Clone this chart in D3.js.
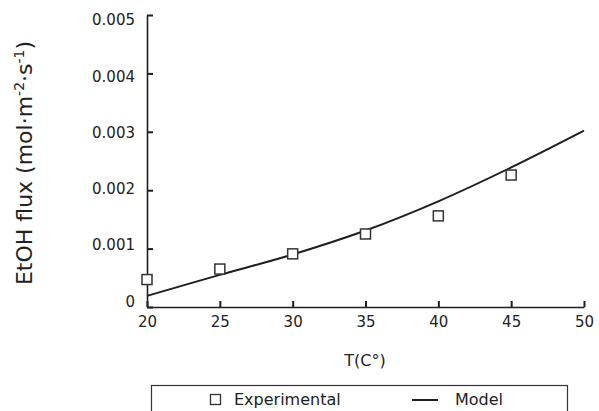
<!DOCTYPE html>
<html>
<head>
<meta charset="utf-8">
<script src="https://cdn.jsdelivr.net/npm/d3@7/dist/d3.min.js"></script>
<style>
  html, body { margin: 0; padding: 0; background: #fff; }
  svg { display: block; }
  text { font-family: "DejaVu Sans", "Noto Sans", sans-serif; fill: #222; }
</style>
</head>
<body>
<svg id="chart" width="599" height="411"></svg>
<script>
// Temperature (°C) of the measurements
const experimentalT = [20, 25, 30, 35, 40, 45];
// Measured ethanol flux, mol·m-2·s-1
const experimentalFlux = [0.00047, 0.00065, 0.00091, 0.00125, 0.00156, 0.00226];
// Model prediction over the temperature range
const modelT = [20, 25, 30, 35, 40, 45, 50];
const modelFlux = [0.00019, 0.00055, 0.00090, 0.00131, 0.00181, 0.00239, 0.00302];
// Axis ticks
const xTicks = [20, 25, 30, 35, 40, 45, 50];
const yTicks = [0, 0.001, 0.002, 0.003, 0.004, 0.005];
const yTickLabels = ["0", "0.001", "0.002", "0.003", "0.004", "0.005"];

const svg = d3.select("#chart");
const plotLeft = 147, plotRight = 584, plotTop = 15, plotBottom = 307;

const x = d3.scaleLinear().domain([20, 50]).range([plotLeft, plotRight]);
const y = d3.scaleLinear().domain([0, 0.005]).range([plotBottom, plotTop]);

const ink = "#1e1e1e";
const labelInk = "#4a4a4a";

// x axis with inward ticks
const xAxis = svg.append("g")
  .attr("transform", `translate(0,${plotBottom})`)
  .call(d3.axisBottom(x).tickValues(xTicks).tickSizeInner(-6).tickSizeOuter(0).tickPadding(9));
xAxis.select(".domain").attr("stroke", ink).attr("stroke-width", 1.6);
xAxis.selectAll(".tick line").attr("stroke", ink).attr("stroke-width", 2);
xAxis.selectAll(".tick text").attr("font-size", 15).attr("fill", labelInk)
  .attr("font-family", "'DejaVu Sans', sans-serif");

// y axis with inward ticks; labels sit on a slightly tighter ladder than the ticks
const yAxis = svg.append("g")
  .attr("transform", `translate(${plotLeft},0)`)
  .call(d3.axisLeft(y).tickValues(yTicks).tickFormat((d, i) => yTickLabels[i])
    .tickSizeInner(-6).tickSizeOuter(0).tickPadding(12));
yAxis.select(".domain").attr("stroke", ink).attr("stroke-width", 1.6);
yAxis.selectAll(".tick line").attr("stroke", ink).attr("stroke-width", 2);
yAxis.selectAll(".tick text").attr("font-size", 15).attr("fill", labelInk)
  .attr("font-family", "'DejaVu Sans', sans-serif")
  .attr("dy", (d, i) => (4.8 - 5.7 + 2.14 * i).toFixed(1));

// model curve
const line = d3.line()
  .x((d, i) => x(modelT[i]))
  .y(d => y(d))
  .curve(d3.curveCatmullRom.alpha(0.5));
svg.append("path")
  .datum(modelFlux)
  .attr("d", line)
  .attr("fill", "none")
  .attr("stroke", ink)
  .attr("stroke-width", 2);

// experimental points as open squares
const s = 10;
svg.append("g").selectAll("rect")
  .data(experimentalFlux)
  .join("rect")
  .attr("x", (d, i) => x(experimentalT[i]) - s / 2)
  .attr("y", d => y(d) - s / 2)
  .attr("width", s).attr("height", s)
  .attr("fill", "#fff")
  .attr("stroke", "#333")
  .attr("stroke-width", 1.5);

// axis titles
svg.append("text")
  .attr("x", 365).attr("y", 366)
  .attr("text-anchor", "middle")
  .attr("font-size", 16)
  .text("T(C°)");

const yTitle = svg.append("text")
  .attr("transform", "translate(32,163) rotate(-90)")
  .attr("text-anchor", "middle")
  .attr("font-size", 22);
yTitle.append("tspan").text("EtOH flux (mol·m");
yTitle.append("tspan").attr("font-size", 14).attr("dy", -8).text("-2");
yTitle.append("tspan").attr("dy", 8).text("·s");
yTitle.append("tspan").attr("font-size", 14).attr("dy", -8).text("-1");
yTitle.append("tspan").attr("dy", 8).text(")");

// legend
const legend = svg.append("g");
legend.append("rect")
  .attr("x", 151.5).attr("y", 385.5)
  .attr("width", 416).attr("height", 40)
  .attr("fill", "none").attr("stroke", "#333").attr("stroke-width", 1.2);
legend.append("rect")
  .attr("x", 210.5).attr("y", 394.5).attr("width", 10).attr("height", 10)
  .attr("fill", "#fff").attr("stroke", "#333").attr("stroke-width", 1.3);
legend.append("text").attr("x", 234).attr("y", 405).attr("font-size", 16).text("Experimental");
legend.append("line")
  .attr("x1", 412).attr("x2", 438).attr("y1", 400).attr("y2", 400)
  .attr("stroke", ink).attr("stroke-width", 2);
legend.append("text").attr("x", 455).attr("y", 405).attr("font-size", 16).text("Model");
</script>
</body>
</html>
